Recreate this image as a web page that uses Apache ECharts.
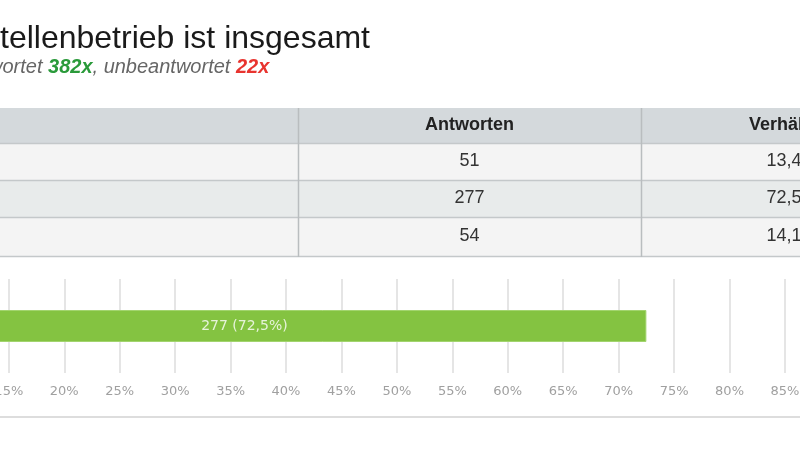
<!DOCTYPE html>
<html>
<head>
<meta charset="utf-8">
<script src="https://cdn.jsdelivr.net/npm/echarts@6/dist/echarts.min.js"></script>
<style>
html,body{margin:0;padding:0;background:#fff;}
#chart{width:800px;height:450px;}
</style>
</head>
<body>
<div id="chart"></div>
<script>
// ---- data ----
const titleText = 'tellenbetrieb ist insgesamt';
const answeredCount = '382x';
const unansweredCount = '22x';
const tableHeaders = ['', 'Antworten', 'Verhältnis'];
const answerCounts = [51, 277, 54];
const answerShares = ['13,4%', '72,5%', '14,1%'];
const barCategories = [''];
const barValues = [72.5];
const barCounts = [277];
const axisMin = 0, axisMax = 100, axisStep = 5;

// ---- table (graphic) ----
const FONT = '"Liberation Sans", Arial, sans-serif';
const colX = [-200, 298, 641, 960];
const headerTop = 108, headerH = 35;
const rowTops = [143, 180, 217];
const rowH = [37, 37, 39];
const rowFill = ['#f4f4f4', '#e8ebeb', '#f4f4f4'];
const g = [];
g.push({type:'rect', shape:{x:colX[0], y:headerTop, width:colX[3]-colX[0], height:headerH}, style:{fill:'#d4d9dc'}});
rowTops.forEach((t,i)=>{
  g.push({type:'rect', shape:{x:colX[0], y:t, width:colX[3]-colX[0], height:rowH[i]}, style:{fill:rowFill[i]}});
});
[143, 180, 217, 256].forEach(y=>{
  g.push({type:'line', shape:{x1:colX[0], y1:y+0.5, x2:colX[3], y2:y+0.5}, style:{stroke:'#c4c8ca', lineWidth:1.5}});
});
[colX[1], colX[2]].forEach(x=>{
  g.push({type:'line', shape:{x1:x+0.5, y1:headerTop, x2:x+0.5, y2:257}, style:{stroke:'#b9bdbf', lineWidth:1.5}});
});
const cx1 = (colX[1]+colX[2])/2, cx2 = 792;
g.push({type:'text', x:cx1, y:headerTop+headerH/2, style:{text:tableHeaders[1], fill:'#222', font:'bold 18px ' + FONT, align:'center', verticalAlign:'middle'}});
g.push({type:'text', x:cx2, y:headerTop+headerH/2, style:{text:tableHeaders[2], fill:'#222', font:'bold 18px ' + FONT, align:'center', verticalAlign:'middle'}});
rowTops.forEach((t,i)=>{
  g.push({type:'text', x:cx1, y:t+rowH[i]/2, style:{text:String(answerCounts[i]), fill:'#333', font:'18px ' + FONT, align:'center', verticalAlign:'middle'}});
  g.push({type:'text', x:cx2, y:t+rowH[i]/2, style:{text:answerShares[i], fill:'#333', font:'18px ' + FONT, align:'center', verticalAlign:'middle'}});
});
// bottom separator line
g.push({type:'line', shape:{x1:0, y1:417, x2:800, y2:417}, style:{stroke:'#dddddd', lineWidth:2}});

const chart = echarts.init(document.getElementById('chart'), null, {renderer:'canvas'});
chart.setOption({
  animation:false,
  backgroundColor:'#ffffff',
  title:[{
    text: titleText,
    left: 0, top: 23, padding:0,
    textStyle:{fontFamily:FONT, fontSize:32, fontWeight:'normal', color:'#1a1a1a'}
  },{
    text: '{i|wortet }{g|' + answeredCount + '}{i|, unbeantwortet }{r|' + unansweredCount + '}',
    left: -12, top: 57, padding:0,
    textStyle:{
      fontWeight:'normal',
      rich:{
        i:{fontFamily:FONT, fontSize:20, fontStyle:'italic', fontWeight:'normal', color:'#666'},
        g:{fontFamily:FONT, fontSize:20, fontStyle:'italic', fontWeight:'bold', color:'#2a9a3a'},
        r:{fontFamily:FONT, fontSize:20, fontStyle:'italic', fontWeight:'bold', color:'#e8342f'}
      }
    }
  }],
  graphic: g,
  grid:{left:-157.5, right:-151.3, top:279, bottom:77, containLabel:false, outerBoundsMode:'none'},
  xAxis:{
    type:'value', min:axisMin, max:axisMax, interval:axisStep,
    axisLine:{show:false}, axisTick:{show:false},
    axisLabel:{formatter:'{value}%', color:'#a0a0a0', fontFamily:'"DejaVu Sans", Verdana, sans-serif', fontSize:13, margin:12},
    splitLine:{show:true, lineStyle:{color:'#dcdcdc', width:1.5}}
  },
  yAxis:{
    type:'category', data:barCategories,
    axisLine:{show:false}, axisTick:{show:false}, axisLabel:{show:false}, splitLine:{show:false}
  },
  series:[{
    type:'bar', data:barValues, barWidth:32,
    itemStyle:{color:'#84c341', borderColor:'#a2d46e', borderWidth:1},
    label:{show:true, position:'inside', color:'rgba(255,255,255,0.8)', fontFamily:'"DejaVu Sans", Verdana, sans-serif', fontSize:14,
      formatter:(p)=> barCounts[p.dataIndex] + ' (' + String(p.value).replace('.', ',') + '%)'}
  }]
});
</script>
</body>
</html>
